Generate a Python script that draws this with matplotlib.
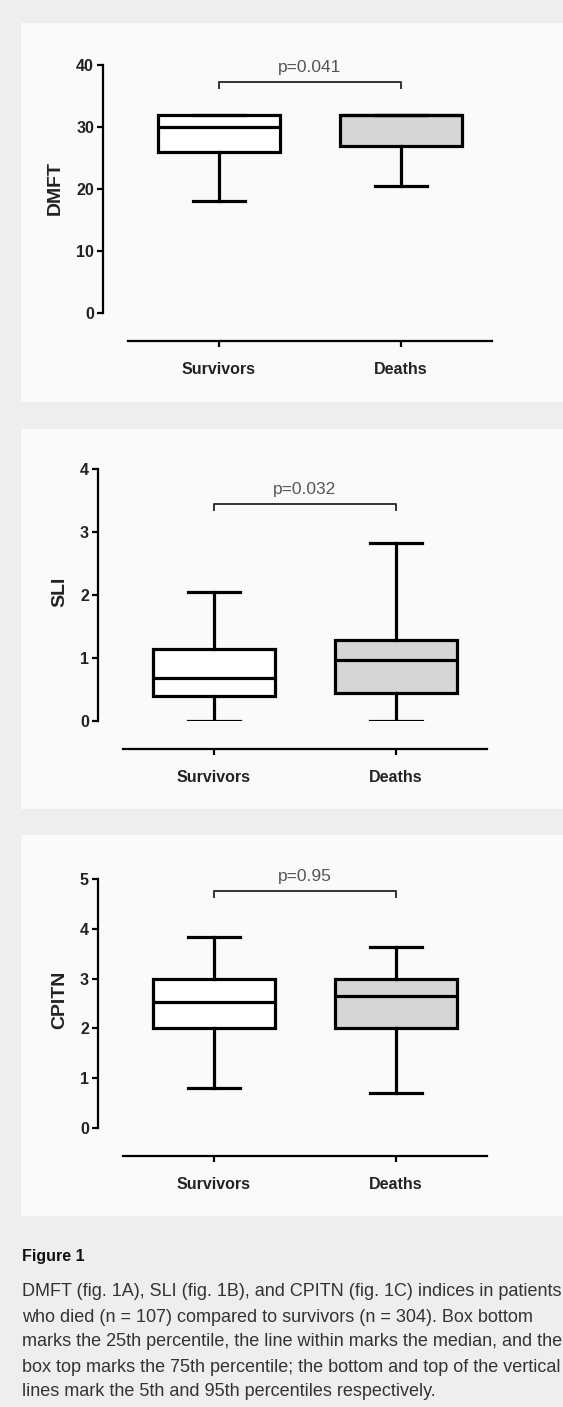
import matplotlib.pyplot as plt
from matplotlib.patches import Rectangle

plt.rcParams['font.family'] = ['Liberation Sans', 'DejaVu Sans']

# -------------------------
# Data
# -------------------------
groups = ["Survivors", "Deaths"]

dmft_p5 = [18, 20.5]
dmft_q1 = [26, 27]
dmft_med = [30, 32]
dmft_q3 = [32, 32]
dmft_p95 = [32, 32]

sli_p5 = [0, 0]
sli_q1 = [0.40, 0.44]
sli_med = [0.69, 0.97]
sli_q3 = [1.14, 1.29]
sli_p95 = [2.04, 2.83]

cpitn_p5 = [0.80, 0.70]
cpitn_q1 = [2.0, 2.0]
cpitn_med = [2.54, 2.66]
cpitn_q3 = [3.0, 3.0]
cpitn_p95 = [3.83, 3.64]

p_values = ["p=0.041", "p=0.032", "p=0.95"]
y_labels = ["DMFT", "SLI", "CPITN"]
y_max = [40, 4, 5]
y_step = [10, 1, 1]
bracket_y = [37.3, 3.44, 4.76]

caption_title = "Figure 1"
caption_lines = [
    "DMFT (fig. 1A), SLI (fig. 1B), and CPITN (fig. 1C) indices in patients",
    "who died (n = 107) compared to survivors (n = 304). Box bottom",
    "marks the 25th percentile, the line within marks the median, and the",
    "box top marks the 75th percentile; the bottom and top of the vertical",
    "lines mark the 5th and 95th percentiles respectively.",
]

# -------------------------
# Layout helpers (pixels -> figure fraction)
# -------------------------
W, H = 563, 1407
fig = plt.figure(figsize=(W / 100, H / 100), dpi=100)
fig.patch.set_facecolor("#eeeeee")


def fx(x):
    return x / W


def fy(y):
    return 1 - y / H


# panel boxes: (top, bottom) in px; axes: (left, top, bottom) in px
panel_boxes = [(23, 402), (429, 809), (835, 1216)]
axes_px = [(103, 65, 313), (98, 469, 721), (98, 879, 1128)]
ylabel_px = [(55, 188), (60, 592), (60, 1000)]

all_stats = [
    (dmft_p5, dmft_q1, dmft_med, dmft_q3, dmft_p95),
    (sli_p5, sli_q1, sli_med, sli_q3, sli_p95),
    (cpitn_p5, cpitn_q1, cpitn_med, cpitn_q3, cpitn_p95),
]

ax_w = 437
for i in range(3):
    top, bot = panel_boxes[i]
    fig.patches.append(Rectangle((fx(21), fy(bot)), fx(W - 21), (bot - top) / H,
                                 transform=fig.transFigure, facecolor="#fafafa",
                                 edgecolor="none", zorder=-10))

    left, atop, abot = axes_px[i]
    ax = fig.add_axes([fx(left), fy(abot), ax_w / W, (abot - atop) / H])
    ax.set_facecolor("none")

    p5, q1, med, q3, p95 = all_stats[i]
    stats = []
    for j in range(2):
        stats.append({"whislo": p5[j], "q1": q1[j], "med": med[j],
                      "q3": q3[j], "whishi": p95[j], "fliers": [],
                      "label": groups[j]})

    bp = ax.bxp(stats, positions=[1, 2], widths=0.67, capwidths=0.29,
                patch_artist=True, showfliers=False,
                boxprops=dict(linewidth=2.3, edgecolor="black"),
                medianprops=dict(color="black", linewidth=2.3),
                whiskerprops=dict(color="black", linewidth=2.3),
                capprops=dict(color="black", linewidth=2.3))
    bp["boxes"][0].set_facecolor("white")
    bp["boxes"][1].set_facecolor("#d6d6d6")

    ax.set_xlim(0.363, 2.764)
    ax.set_ylim(0, y_max[i])
    ax.set_yticks(range(0, y_max[i] + 1, y_step[i]))

    for s in ["top", "right"]:
        ax.spines[s].set_visible(False)
    ax.spines["left"].set_linewidth(1.6)
    ax.spines["left"].set_bounds(0, y_max[i])
    ax.spines["bottom"].set_linewidth(1.6)
    ax.spines["bottom"].set_position(("outward", 20))
    ax.spines["bottom"].set_bounds(0.5, 2.5)

    ax.set_xticks([1, 2])
    ax.set_xticklabels(groups, fontsize=11.5, fontweight="bold", color="#222222")
    ax.tick_params(axis="x", length=4, width=1.6, pad=11)
    ax.tick_params(axis="y", length=4, width=1.6, pad=2.5,
                   labelsize=11.5, labelcolor="#222222")
    for t in ax.get_yticklabels():
        t.set_fontweight("bold")

    # significance bracket
    drop = 6 * y_max[i] / (abot - atop)
    by = bracket_y[i]
    ax.plot([1, 1, 2, 2], [by - drop, by, by, by - drop], color="#333333",
            linewidth=1.4, clip_on=False)
    ax.annotate(p_values[i], (1.5, by), xytext=(0, 10.5), textcoords="offset points",
                ha="center", va="center", fontsize=12.5, color="#555555",
                annotation_clip=False)

    lx, ly = ylabel_px[i]
    fig.text(fx(lx), fy(ly), y_labels[i], rotation=90, ha="center", va="center",
             fontsize=14, fontweight="bold", color="#222222")

# -------------------------
# Caption
# -------------------------
fig.text(fx(22), fy(1257), caption_title, ha="left", va="center",
         fontsize=11.5, fontweight="bold", color="#111111")
for k, line in enumerate(caption_lines):
    fig.text(fx(22), fy(1292 + 25 * k), line, ha="left", va="center",
             fontsize=13, color="#333333")

fig.savefig("out.png", dpi=100, facecolor=fig.get_facecolor())
